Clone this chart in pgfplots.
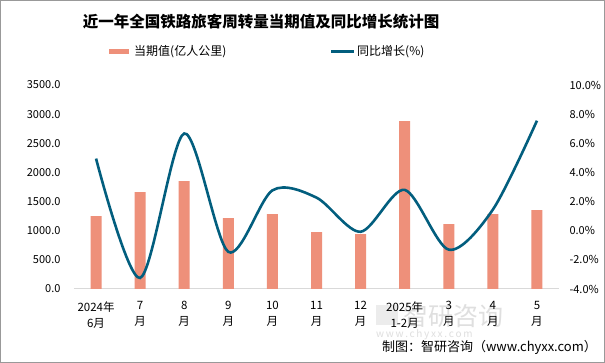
\documentclass[border=0pt]{standalone}
\usepackage{pgfplots}
\pgfplotsset{compat=1.18}
\usepackage{fontspec}
\setmainfont{Noto Sans CJK SC}
\definecolor{barc}{RGB}{238,144,122}
\definecolor{linec}{RGB}{2,94,126}
\definecolor{axc}{RGB}{217,217,217}
\begin{document}
\begin{tikzpicture}
\path[use as bounding box] (0pt,0pt) rectangle (605pt,363pt);
\fill[white] (0pt,0pt) rectangle (605pt,363pt);
\draw[gray!80, line width=1pt] (0.5pt,0.5pt) rectangle (604.5pt,362.5pt);
% title
\node[font=\fontsize{15.5}{18}\selectfont\bfseries] at (261pt,341pt) {近一年全国铁路旅客周转量当期值及同比增长统计图};
% legend
\fill[barc] (109pt,309pt) rectangle (129pt,314pt);
\node[anchor=west, font=\fontsize{12}{14}\selectfont, inner sep=0pt] at (134pt,311.5pt) {当期值(亿人公里)};
\draw[linec, line width=3pt] (331pt,311.5pt) -- (354pt,311.5pt);
\node[anchor=west, font=\fontsize{12}{14}\selectfont, inner sep=0pt] at (357pt,311.5pt) {同比增长(\%)};
% watermark
\node[text=gray!25, font=\fontsize{25}{28}\selectfont, anchor=west, inner sep=0pt] at (403pt,47pt) {智研咨询};
\fill[gray!15] (376pt,38pt) rectangle (398pt,58pt);
\node[text=gray!25, font=\fontsize{10}{12}\selectfont, anchor=west, inner sep=0pt] at (376pt,28pt) {w\,w\,w\,.\,c\,h\,y\,x\,x\,.\,c\,o\,m};
% footer
\node[anchor=east, font=\fontsize{13}{15}\selectfont, inner sep=0pt] at (597pt,16pt) {制图：智研咨询（www.chyxx.com）};
\begin{axis}[
  at={(74pt,74pt)}, anchor=south west, scale only axis,
  width=485pt, height=204pt,
  xmin=-0.5, xmax=10.5, ymin=0, ymax=3500,
  ytick={0,500,...,3500},
  xtick={0,...,10},
  xticklabels={{2024年\\6月},{7\\月},{8\\月},{9\\月},{10\\月},{11\\月},{12\\月},{2025年\\1-2月},{3\\月},{4\\月},{5\\月}},
  xticklabel style={align=center, font=\fontsize{11.5}{16}\selectfont, yshift=-9pt},
  axis x line*=bottom, axis y line*=left,
  y axis line style={draw=none},
  x axis line style={axc, line width=1pt, -},
  major tick length=0pt,
  /pgf/number format/assume math mode=true,
  yticklabel style={font=\fontsize{11}{13}\selectfont, xshift=-10pt, /pgf/number format/.cd, fixed, fixed zerofill, precision=1, 1000 sep={}},
  clip=false,
]
\addplot[ybar, bar width=11pt, fill=barc, draw=none] coordinates {
(0,1250) (1,1662) (2,1850) (3,1216) (4,1285) (5,977) (6,942) (7,2878) (8,1114) (9,1285) (10,1353)};
\end{axis}
\begin{axis}[
  at={(74pt,74pt)}, anchor=south west, scale only axis,
  width=485pt, height=204pt,
  xmin=-0.5, xmax=10.5, ymin=-4, ymax=10,
  ytick={-4,-2,...,10},
  axis x line=none, axis y line*=right,
  y axis line style={draw=none},
  major tick length=0pt,
  yticklabel style={font=\fontsize{11}{13}\selectfont, xshift=7pt},
  yticklabel={\pgfmathprintnumber[fixed,fixed zerofill,precision=1,assume math mode=true]{\tick}\%},
  clip=false,
]
\addplot[linec, line width=2.6pt, smooth, no markers] coordinates {
(0,4.95) (1,-3.24) (2,6.67) (3,-1.45) (4,2.77) (5,2.27) (6,-0.07) (7,2.8) (8,-1.3) (9,1.45) (10,7.55)};
\end{axis}
\end{tikzpicture}
\end{document}
